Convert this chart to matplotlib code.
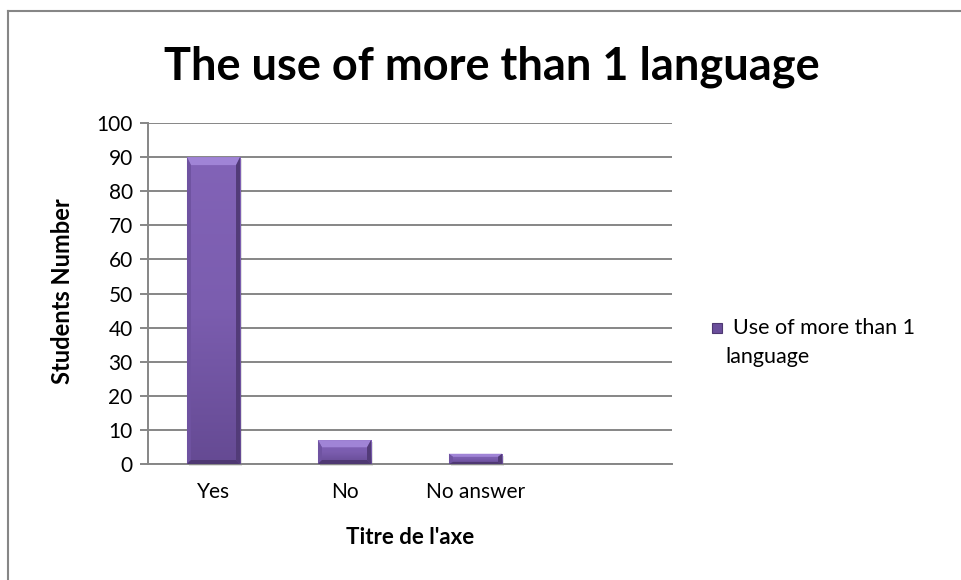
import numpy as np
import matplotlib.pyplot as plt
from matplotlib.patches import Polygon, Rectangle
from matplotlib.lines import Line2D
from matplotlib.colors import LinearSegmentedColormap

plt.rcParams['font.family'] = ['Lato', 'DejaVu Sans']

categories = ['Yes', 'No', 'No answer']
students = [90, 7, 3]

grey = '#868686'
fig = plt.figure(figsize=(9.61, 5.8), dpi=100)
W, H = 961, 580
ax = fig.add_axes([148 / W, 116 / H, 524 / W, 341 / H])

ax.set_xlim(-0.5, 3.5)
ax.set_ylim(0, 100)
ax.set_yticks(np.arange(0, 101, 10))
ax.set_xticks(range(len(categories)))
ax.set_xticklabels(categories)
ax.yaxis.grid(True, color=grey, lw=1.4)
ax.set_axisbelow(True)
for s in ['top', 'right']:
    ax.spines[s].set_visible(False)
for s in ['left', 'bottom']:
    ax.spines[s].set_color(grey)
    ax.spines[s].set_linewidth(1.4)
ax.tick_params(axis='y', length=6, width=1.4, color=grey, labelsize=15, pad=5)
ax.tick_params(axis='x', length=0, labelsize=15, pad=13)

# one pixel in data units, used for the bevel edges
p0 = ax.transData.transform((0, 0))
p1 = ax.transData.transform((1, 1))
dx = 1 / (p1[0] - p0[0])
dy = 1 / (p1[1] - p0[1])

bar_w = 0.405
bars = ax.bar(range(len(students)), students, width=bar_w, color='#7256A3',
              edgecolor='none', zorder=3)

grad = np.linspace(0, 1, 256).reshape(-1, 1)
cmap = LinearSegmentedColormap.from_list('bar', ['#654A93', '#7B5DAF', '#8263B7'])

for b, v in zip(bars, students):
    x0 = b.get_x()
    x1 = x0 + b.get_width()
    # soft shadow
    ax.add_patch(Rectangle((x0 + 2 * dx, -2 * dy), x1 - x0, v, fc='#000000',
                           alpha=0.12, ec='none', zorder=2, clip_on=False))
    im = ax.imshow(grad, cmap=cmap, extent=(x0, x1, 0, v), origin='lower',
                   aspect='auto', zorder=3)
    im.set_clip_path(b)
    bx = 4 * dx
    bt = min(8 * dy, v * 0.3)
    bb = min(4 * dy, v * 0.2)
    ax.add_patch(Polygon([(x0, v), (x1, v), (x1 - bx, v - bt), (x0 + bx, v - bt)],
                         fc='#A084D6', ec='none', zorder=4))
    ax.add_patch(Polygon([(x0, 0), (x0, v), (x0 + bx, v - bt), (x0 + bx, bb)],
                         fc='#6F53A1', ec='none', zorder=4))
    ax.add_patch(Polygon([(x1, 0), (x1, v), (x1 - bx, v - bt), (x1 - bx, bb)],
                         fc='#523B78', ec='none', zorder=4))
    ax.add_patch(Polygon([(x0, 0), (x1, 0), (x1 - bx, bb), (x0 + bx, bb)],
                         fc='#4E3872', ec='none', zorder=4))

ax.set_xlim(-0.5, 3.5)
ax.set_ylim(0, 100)

fig.text(492 / W, 1 - 79 / H, 'The use of more than 1 language', fontsize=32.5,
         fontweight='bold', ha='center', va='baseline')
fig.text(62 / W, 1 - 291 / H, 'Students Number', fontsize=17, fontweight='bold',
         rotation=90, ha='center', va='center')
fig.text(410 / W, 1 - 537 / H, "Titre de l'axe", fontsize=16, fontweight='bold',
         ha='center', va='center')

# legend
fig.add_artist(Rectangle((712 / W, 1 - 333 / H), 10 / W, 10 / H, transform=fig.transFigure,
                         fc='#6A4E9B', ec='#4E3872', lw=0.8))
fig.text(733 / W, 1 - 334 / H, 'Use of more than 1', fontsize=15.5, va='baseline')
fig.text(725 / W, 1 - 363 / H, 'language', fontsize=15.5, va='baseline')

# chart border
fig.add_artist(Line2D([8 / W, 1], [1 - 11 / H] * 2, transform=fig.transFigure, color=grey, lw=1.5))
fig.add_artist(Line2D([8 / W] * 2, [0, 1 - 11 / H], transform=fig.transFigure, color=grey, lw=1.5))

fig.savefig('out.png', dpi=100)
